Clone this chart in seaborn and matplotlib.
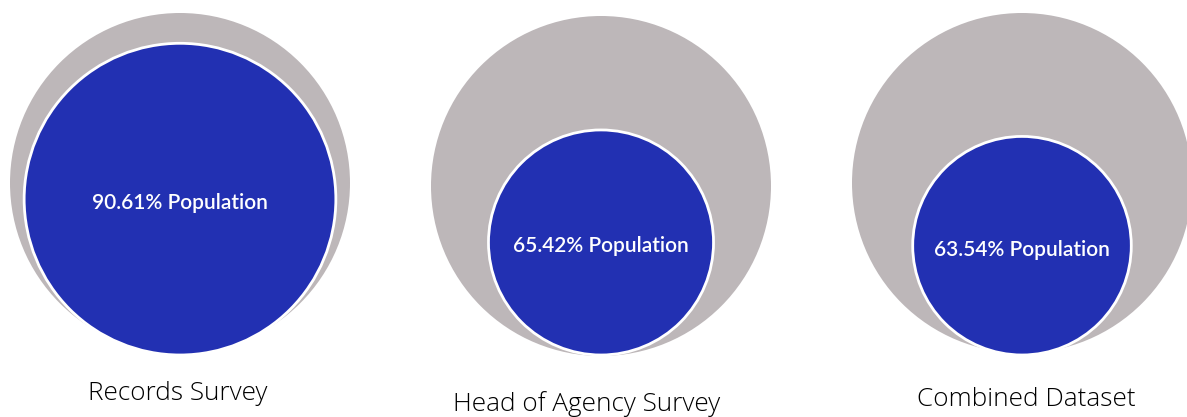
import seaborn as sns
from matplotlib import pyplot as plt
from matplotlib.patches import Circle

# share of population covered by each dataset
datasets = ['Records Survey', 'Head of Agency Survey', 'Combined Dataset']
population_pct = [90.61, 65.42, 63.54]
label_offsets = [0, 10, 5]   # the captions sit at slightly different heights
label_shift = [-2, -14, 4]

sns.set_style('white')
plt.rcParams['font.family'] = ['Lato', 'DejaVu Sans']

fig = plt.figure(figsize=(11.87, 4.17), dpi=100)
ax = fig.add_axes([0, 0, 1, 1])
ax.set_xlim(0, 1187)
ax.set_ylim(417, 0)
ax.set_aspect('equal')
ax.axis('off')

outer_r = 170
inner_scale = 172
bottom = 355

for i, (name, pct) in enumerate(zip(datasets, population_pct)):
    cx = 180 + i * 421
    cy = 183 + (3 if i == 1 else 0)
    ax.add_patch(Circle((cx, cy), outer_r, facecolor='#bdb7b9', edgecolor='none'))

    r = pct / 100 * inner_scale
    by = bottom - r
    ax.add_patch(Circle((cx, by), r, facecolor='#2230b2', edgecolor='white', linewidth=2))
    ax.text(cx, by + 4, f'{pct:.2f}% Population', ha='center', va='center',
            color='white', fontsize=15, fontweight='semibold')

    ax.text(cx + label_shift[i], 394 + label_offsets[i], name,
            ha='center', va='center', fontsize=18.8, color='black',
            family=['Open Sans', 'DejaVu Sans'], fontweight='light')

fig.savefig('out.png', dpi=100)
